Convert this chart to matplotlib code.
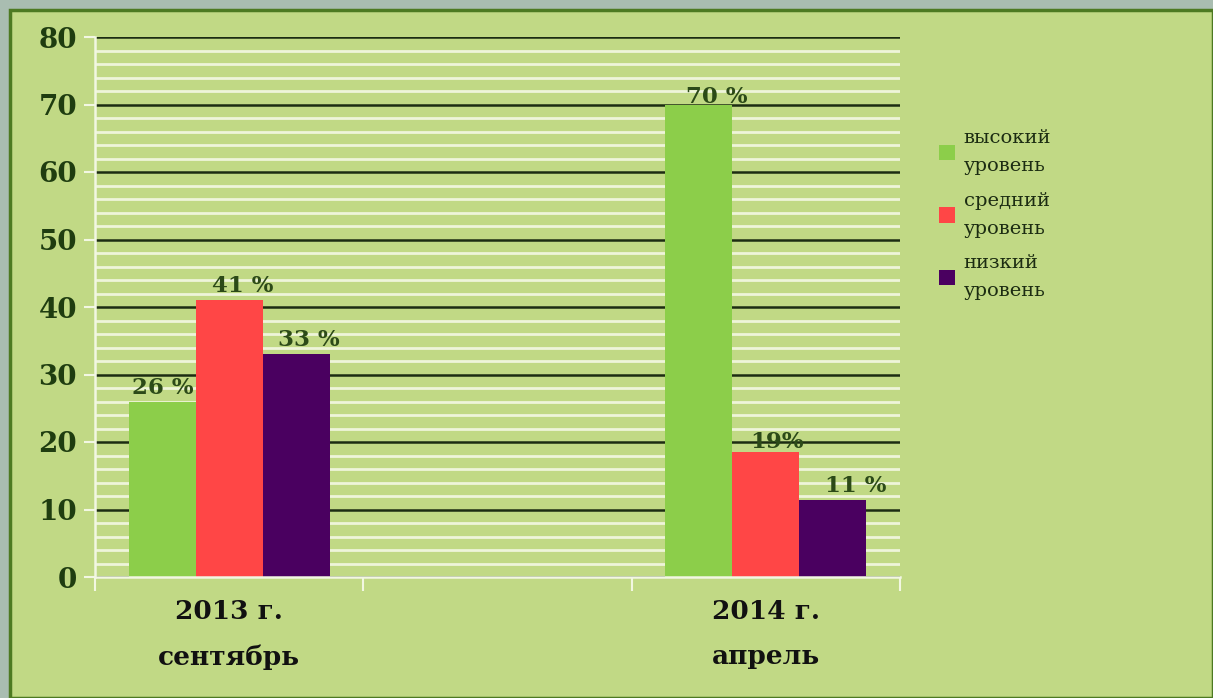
import matplotlib.pyplot as plt
from matplotlib.patches import Rectangle
import numpy as np

# data
categories = ['2013 г.\nсентябрь', '', '2014 г.\nапрель']
series_names = ['высокий\nуровень', 'средний\nуровень', 'низкий\nуровень']
values = [
    [26, None, 70],
    [41, None, 18.5],
    [33, None, 11.4],
]
value_labels = [
    ['26 %', '', '70 %'],
    ['41 %', '', '19%'],
    ['33 %', '', '11 %'],
]
colors = ['#8cce4a', '#ff4646', '#4a0060']

# small hand placed shifts of the value labels (pixels)
label_dx = [[1, 0, 18], [14, 0, 11], [13, 0, 23]]
label_dy = [[0, 0, -6], [0, 0, -4], [0, 0, 0]]

plt.rcParams['font.family'] = ['DejaVu Serif']

fig = plt.figure(figsize=(12.13, 6.98), dpi=100)
fig.patch.set_facecolor('#a9bdb1')
panel = Rectangle((10 / 1213, 0), 1 - 10 / 1213, 1 - 10 / 698,
                  transform=fig.transFigure, facecolor='#c1d985',
                  edgecolor='#4d7a22', linewidth=2.5, zorder=-10)
fig.patches.append(panel)

ax = fig.add_axes([95 / 1213, 121 / 698, 805 / 1213, 540 / 698])
ax.set_zorder(2)
ax.set_facecolor('none')

x = np.arange(len(categories))
width = 0.25
for i, (name, vals, col) in enumerate(zip(series_names, values, colors)):
    xs = [xx + (i - 1) * width for xx, v in zip(x, vals) if v is not None]
    ys = [v for v in vals if v is not None]
    ax.bar(xs, ys, width, color=col, label=name, zorder=3)
    for xx, v, lab, dx, dy in zip(x, vals, value_labels[i], label_dx[i], label_dy[i]):
        if v is None:
            continue
        ax.annotate(lab, (xx + (i - 1) * width, v), xytext=(dx * 0.72, 2 + dy * 0.72),
                    textcoords='offset points', ha='center', va='bottom',
                    fontsize=16.5, fontweight='bold', color='#2c4a18', zorder=5)

ax.set_xlim(-0.5, 2.5)
ax.set_ylim(0, 80)
ax.set_yticks(range(0, 81, 10))
ax.set_yticks(range(0, 81, 2), minor=True)
ax.grid(True, which='minor', axis='y', color='#eef5da', linewidth=2, zorder=1)
ax.grid(True, which='major', axis='y', color='#1c2c12', linewidth=1.8, zorder=2)
ax.tick_params(axis='y', which='minor', length=0)
ax.tick_params(axis='y', which='major', length=8, width=1.5, color='#f2f7e2',
               labelsize=20, labelcolor='#1f3d10', pad=5)
for t in ax.get_yticklabels():
    t.set_fontweight('bold')

ax.set_xticks([-0.5, 0.5, 1.5, 2.5])
ax.set_xticklabels([])
ax.set_xticks(x, minor=True)
ax.set_xticklabels(categories, minor=True)
ax.tick_params(axis='x', which='major', length=10, width=1.5, color='#f2f7e2')
ax.tick_params(axis='x', which='minor', length=0, pad=16, labelsize=19,
               labelcolor='#111111')
for t in ax.get_xticklabels(minor=True):
    t.set_fontweight('bold')
    t.set_linespacing(2.0)

for s in ['top', 'right']:
    ax.spines[s].set_visible(False)
for s in ['left', 'bottom']:
    ax.spines[s].set_color('#f2f7e2')
    ax.spines[s].set_linewidth(1.8)
    ax.spines[s].set_zorder(4)

leg = fig.legend(loc='upper left', bbox_to_anchor=(921 / 1213, 1 - 112 / 698),
                 frameon=False, fontsize=14, handlelength=0.85, handleheight=0.85,
                 handletextpad=0.45, labelspacing=0.85, labelcolor='#1c2c12')
for t in leg.get_texts():
    t.set_linespacing(1.7)

plt.savefig('out.png', dpi=100, facecolor=fig.get_facecolor())
